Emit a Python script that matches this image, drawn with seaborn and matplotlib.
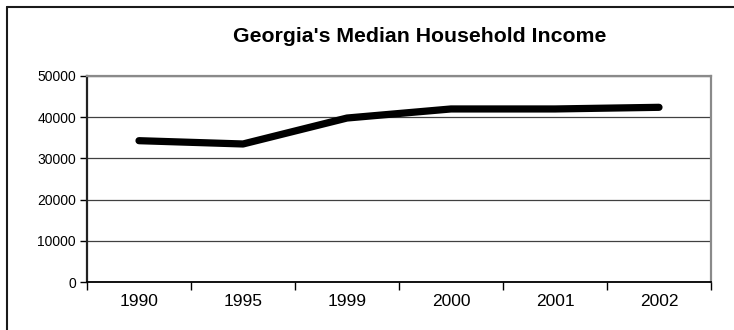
import matplotlib
matplotlib.use("Agg")
import matplotlib.pyplot as plt
from matplotlib.lines import Line2D
from matplotlib.ticker import FixedLocator, NullFormatter
import pandas as pd
import seaborn as sns

years = ["1990", "1995", "1999", "2000", "2001", "2002"]
income = [34300, 33500, 39800, 42000, 42000, 42400]
y_ticks = [0, 10000, 20000, 30000, 40000, 50000]
title = "Georgia's Median Household Income"

sns.set_theme(style="white")
plt.rcParams["font.family"] = ["Liberation Sans", "DejaVu Sans"]

df = pd.DataFrame({"year": years, "income": income})
pos = list(range(len(years)))
df["pos"] = pos

fig = plt.figure(figsize=(7.34, 3.30), dpi=100)
ax = fig.add_axes([87 / 734, 48 / 330, 624 / 734, 206 / 330])

sns.lineplot(data=df, x="pos", y="income", ax=ax, color="black",
             linewidth=5.2, solid_capstyle="round", solid_joinstyle="round",
             zorder=5)

ax.set_xlim(-0.5, len(years) - 0.5)
ax.set_ylim(0, 50000)
ax.set_xlabel("")
ax.set_ylabel("")

# category boundaries carry the tick marks, labels sit at centres
ax.xaxis.set_major_locator(FixedLocator([p - 0.5 for p in pos] + [len(years) - 0.5]))
ax.xaxis.set_major_formatter(NullFormatter())
ax.xaxis.set_minor_locator(FixedLocator(pos))
ax.set_xticklabels(years, minor=True)
ax.tick_params(axis="x", which="major", direction="out", length=6, width=1,
               color="black", bottom=True)
ax.tick_params(axis="x", which="minor", length=0, pad=9, labelsize=12.5,
               labelcolor="black", bottom=True)

ax.set_yticks(y_ticks)
ax.set_yticklabels([str(v) for v in y_ticks])
ax.tick_params(axis="y", direction="out", length=5, width=1, color="black",
               labelsize=10, pad=3, labelcolor="black", left=True)

ax.grid(axis="y", color="#404040", linewidth=0.9)
ax.grid(axis="x", visible=False)
ax.set_axisbelow(True)

for side in ["top", "right"]:
    ax.spines[side].set_color("#8a8a8a")
    ax.spines[side].set_linewidth(1.6)
ax.spines["left"].set_color("#222222")
ax.spines["left"].set_linewidth(1.6)
ax.spines["bottom"].set_color("black")
ax.spines["bottom"].set_linewidth(1.3)

fig.text(420 / 734, 1 - 42.5 / 330, title, ha="center", va="baseline",
         fontsize=15.3, fontweight="bold", color="black")

# outer chart frame (top and left edges)
fig.add_artist(Line2D([7 / 734, 1.0], [1 - 6.7 / 330, 1 - 6.7 / 330],
                      transform=fig.transFigure, color="#1a1a1a", linewidth=1.5))
fig.add_artist(Line2D([7 / 734, 7 / 734], [0, 1 - 6.7 / 330],
                      transform=fig.transFigure, color="#1a1a1a", linewidth=1.5))

fig.savefig("out.png", dpi=100)
